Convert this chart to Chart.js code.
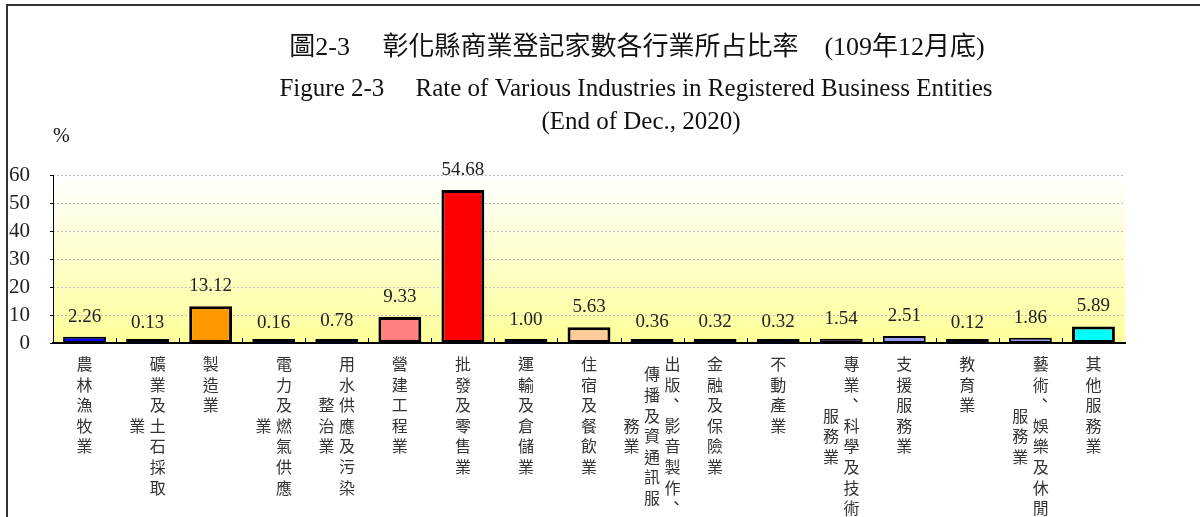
<!DOCTYPE html>
<html><head><meta charset="utf-8">
<script src="https://cdn.jsdelivr.net/npm/chart.js@4"></script>
<style>html,body{margin:0;padding:0;background:#fff;overflow:hidden}#wrap{width:1200px;height:517px;position:relative}</style>
</head><body><div id="wrap"><canvas id="c" width="1200" height="517"></canvas></div>
<script>
// ---- data ----
const categories = ['農林漁牧業','礦業及土石採取業','製造業','電力及燃氣供應業','用水供應及污染整治業','營建工程業','批發及零售業','運輸及倉儲業','住宿及餐飲業','出版、影音製作、傳播及資通訊服務業','金融及保險業','不動產業','專業、科學及技術服務業','支援服務業','教育業','藝術、娛樂及休閒服務業','其他服務業'];
const labelColumns = [['農林漁牧業'],['礦業及土石採取','業'],['製造業'],['電力及燃氣供應','業'],['用水供應及污染','整治業'],['營建工程業'],['批發及零售業'],['運輸及倉儲業'],['住宿及餐飲業'],['出版、影音製作、','傳播及資通訊服','務業'],['金融及保險業'],['不動產業'],['專業、科學及技術','服務業'],['支援服務業'],['教育業'],['藝術、娛樂及休閒','服務業'],['其他服務業']];
const values = [2.26,0.13,13.12,0.16,0.78,9.33,54.68,1.00,5.63,0.36,0.32,0.32,1.54,2.51,0.12,1.86,5.89];
const yTicks = [0,10,20,30,40,50,60];
const titleLines = ['圖2-3　 彰化縣商業登記家數各行業所占比率　(109年12月底)','Figure 2-3     Rate of Various Industries in Registered Business Entities','(End of Dec., 2020)'];
const unitLabel = '%';
// ---- styles ----
const barColors = ['#0000FF','#333333','#FF9900','#333333','#333333','#FF8080','#FF0000','#000080','#FFCC99','#333333','#333333','#333333','#800080','#9999FF','#333333','#9999FF','#00FFFF'];
const SERIF = '"Liberation Serif", "Times New Roman", serif';
const CJK = '"Noto Sans CJK TC", "Noto Sans CJK SC", sans-serif';

const bgPlugin = {
  id:'bg',
  beforeDraw(chart){
    const {ctx, chartArea:a} = chart;
    ctx.save();
    ctx.fillStyle='#fff'; ctx.fillRect(0,0,chart.width,chart.height);
    const g = ctx.createLinearGradient(0,a.top,0,a.bottom);
    g.addColorStop(0,'#FFFFFF'); g.addColorStop(1,'#FFFF99');
    ctx.fillStyle=g; ctx.fillRect(a.left,a.top,a.right-a.left,a.bottom-a.top);
    const y = chart.scales.y;
    ctx.strokeStyle='#BEBEBE'; ctx.lineWidth=1; ctx.setLineDash([2,2]);
    yTicks.forEach(v=>{ if(v===0) return; const py=Math.round(y.getPixelForValue(v))+0.5; ctx.beginPath(); ctx.moveTo(a.left,py); ctx.lineTo(a.right,py); ctx.stroke(); });
    ctx.setLineDash([]);
    ctx.restore();
  },
  afterDatasetsDraw(chart){
    const {ctx, chartArea:a} = chart;
    const x = chart.scales.x, y = chart.scales.y;
    ctx.save();
    ctx.strokeStyle='#000'; ctx.lineWidth=1;
    const step = (a.right-a.left)/categories.length;
    for(let k=1;k<categories.length;k++){ const px=Math.round(a.left+k*step)+0.5; ctx.beginPath(); ctx.moveTo(px,a.bottom); ctx.lineTo(px,a.bottom-5); ctx.stroke(); }
    yTicks.forEach(v=>{ const py=Math.round(y.getPixelForValue(v))+0.5; ctx.beginPath(); ctx.moveTo(a.left-3,py); ctx.lineTo(a.left,py); ctx.stroke(); });
    ctx.fillStyle='#222'; ctx.font='19px '+SERIF; ctx.textAlign='center'; ctx.textBaseline='middle';
    values.forEach((v,i)=>{ ctx.fillText(v.toFixed(2), x.getPixelForValue(i), y.getPixelForValue(v)-20); });
    ctx.restore();
  },
  afterDraw(chart){
    const {ctx} = chart;
    const x = chart.scales.x;
    ctx.save();
    ctx.fillStyle='#333'; ctx.font='16px '+CJK; ctx.textAlign='center'; ctx.textBaseline='middle';
    const rowH=20.6, colW=20.5, top0=364;
    labelColumns.forEach((cols,i)=>{
      const cx = x.getPixelForValue(i);
      const maxLen = Math.max(...cols.map(c=>[...c].length));
      cols.forEach((col,c)=>{
        const chars=[...col];
        const px = cx + (cols.length-1)/2*colW - c*colW;
        const off = (maxLen-chars.length)/2*rowH;
        chars.forEach((ch,r)=>{
          const py = top0 + off + r*rowH;
          if(ch==='、') ctx.fillText(ch, px+4, py-5); else ctx.fillText(ch, px, py);
        });
      });
    });
    ctx.fillStyle='#111'; ctx.textAlign='center'; ctx.textBaseline='middle';
    ctx.font='26px "Liberation Serif", "Noto Sans CJK TC"';
    ctx.fillText(titleLines[0], 637, 48);
    ctx.font='25px '+SERIF;
    ctx.fillText(titleLines[1], 636, 89);
    ctx.fillText(titleLines[2], 641, 122);
    ctx.font='20px '+SERIF; ctx.textAlign='left';
    ctx.fillText(unitLabel, 53, 137);
    ctx.strokeStyle='#333'; ctx.lineWidth=2;
    ctx.beginPath(); ctx.moveTo(7,517); ctx.lineTo(7,5); ctx.lineTo(1200,5); ctx.stroke();
    ctx.restore();
  }
};

new Chart(document.getElementById('c'), {
  type:'bar',
  data:{ labels: categories, datasets:[{ data: values, backgroundColor: barColors, borderColor:'#000',
    borderWidth: c => (c.raw < 3 ? 2 : 3), borderSkipped:false, barPercentage:0.68, categoryPercentage:1, minBarLength:4 }]},
  options:{
    responsive:false, animation:false, devicePixelRatio:1,
    layout:{ padding:{ top:175, right:75, left:0, bottom:0 } },
    plugins:{ legend:{display:false}, tooltip:{enabled:false}, title:{display:false} },
    scales:{
      x:{ grid:{display:false}, border:{display:true,color:'#000',width:2}, ticks:{display:false}, afterFit(s){ s.height=174; } },
      y:{ min:0, max:60, afterBuildTicks(s){ s.ticks = yTicks.map(v=>({value:v})); },
          ticks:{ autoSkip:false, padding:23, color:'#222', font:{family:'Liberation Serif', size:21} },
          grid:{display:false, drawTicks:false}, border:{display:true,color:'#000',width:1},
          afterFit(s){ s.width=53; } }
    }
  },
  plugins:[bgPlugin]
});
</script></body></html>
